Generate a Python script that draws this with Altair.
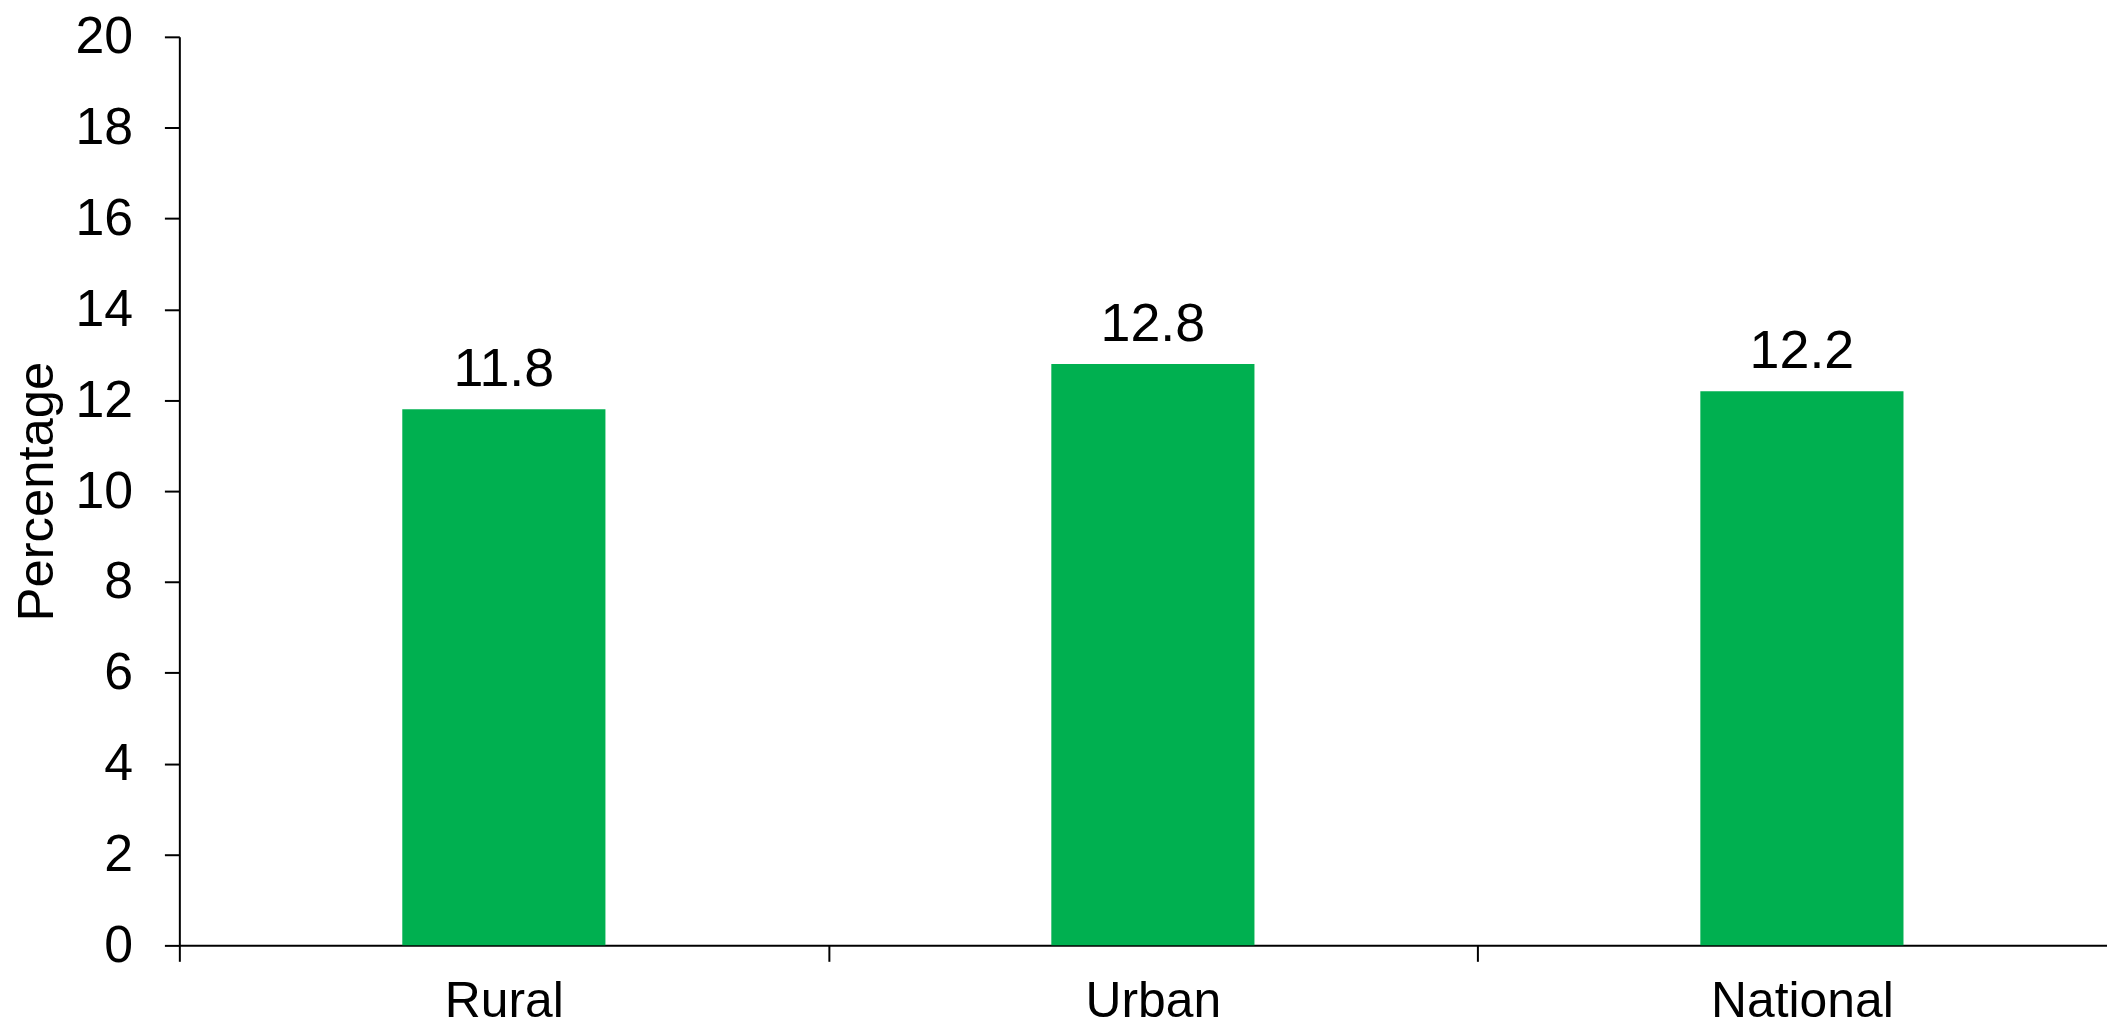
import altair as alt
import pandas as pd

categories = ["Rural", "Urban", "National"]
values = [11.8, 12.8, 12.2]
y_ticks = [0, 2, 4, 6, 8, 10, 12, 14, 16, 18, 20]

df = pd.DataFrame({"cat": categories, "val": values, "label": [f"{v:.1f}" for v in values]})

FONT = "Liberation Sans"
GREEN = "#00B050"

x_enc = alt.X(
    "cat:N",
    sort=categories,
    scale=alt.Scale(range=[0, 1954.5], paddingInner=0, paddingOuter=0),
    axis=alt.Axis(
        title=None,
        labelAngle=0,
        labelFont=FONT,
        labelFontSize=50,
        labelColor="black",
        labelBaseline="alphabetic",
        labelPadding=55,
        labelLimit=0,
        tickSize=16,
        tickBand="extent",
        tickColor="black",
        tickWidth=2,
        domainColor="black",
        domainWidth=2,
        grid=False,
    ),
)

y_enc = alt.Y(
    "val:Q",
    scale=alt.Scale(domain=[0, 20], nice=False),
    axis=alt.Axis(
        values=y_ticks,
        title="Percentage",
        titleFont=FONT,
        titleFontSize=51,
        titleFontWeight="normal",
        titleColor="black",
        titleAngle=270,
        titleAlign="center",
        titleBaseline="alphabetic",
        titleX=-127,
        titleY=456,
        labelFont=FONT,
        labelFontSize=52,
        labelColor="black",
        labelPadding=32,
        tickSize=15,
        tickColor="black",
        tickWidth=2,
        domainColor="black",
        domainWidth=2,
        grid=False,
    ),
)

base = alt.Chart(df)

bars = base.mark_bar(color=GREEN, width=alt.RelativeBandSize(0.313)).encode(x=x_enc, y=y_enc)

labels = base.mark_text(
    font=FONT, fontSize=54, color="black", baseline="alphabetic", dy=-23
).encode(x=alt.X("cat:N", sort=categories), y=alt.Y("val:Q"), text="label:N")

chart = (
    alt.layer(bars, labels)
    .properties(
        width=1935,
        height=912,
        autosize=alt.AutoSizeParams(type="none"),
        padding={"left": 172, "top": 27, "right": 0, "bottom": 80},
    )
    .configure(background="white")
    .configure_view(stroke="transparent", strokeWidth=0)
    .configure_axis(grid=False)
)

chart.save("out.html", embed_options={"renderer": "svg", "actions": False})
